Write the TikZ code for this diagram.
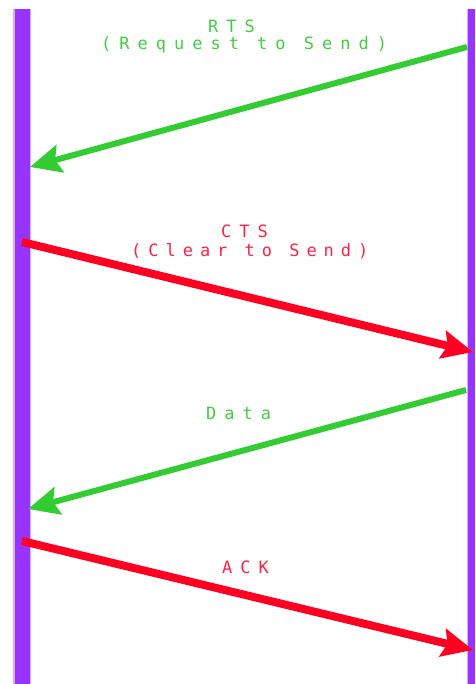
\documentclass[tikz,border=0pt]{standalone}
\usepackage{fontspec}
\usetikzlibrary{arrows.meta}
\newfontfamily\lblfont[LetterSpace=47]{DejaVu Sans Mono}
\newfontfamily\lblfontnarrow[LetterSpace=41]{DejaVu Sans Mono}
\definecolor{lifepurple}{HTML}{9933FF}
\definecolor{msggreen}{HTML}{33CC33}
\definecolor{txtgreen}{HTML}{44CC44}
\definecolor{msgred}{HTML}{FF0022}
\definecolor{txtred}{HTML}{FF2244}
\tikzset{
  greenmsg/.style={draw=msggreen, line width=6pt, -{Stealth[length=31pt,width=28pt,inset=5pt]}, color=msggreen},
  redmsg/.style={draw=msgred, line width=8pt, -{Stealth[length=31pt,width=28pt,inset=5pt]}, color=msgred},
  lbl/.style={anchor=base west, inner sep=0pt, font=\lblfont\fontsize{17}{17}\selectfont},
  lblnarrow/.style={anchor=base west, inner sep=0pt, font=\lblfontnarrow\fontsize{17}{17}\selectfont},
}
\begin{document}
\begin{tikzpicture}[x=1pt,y=-1pt]
\useasboundingbox (0,0) rectangle (475,684);
\fill[white] (0,0) rectangle (475,684);
% lifelines
\fill[lifepurple!40] (13,9) rectangle (31,684);
\fill[lifepurple] (14.5,9) rectangle (29.5,684);
\fill[lifepurple!40] (467,9) rectangle (475,684);
\fill[lifepurple] (468,9) rectangle (475,684);
% coordinates on lifelines
\coordinate (rtsS) at (467,47);
\coordinate (rtsE) at (30,167);
\coordinate (ctsS) at (22,242);
\coordinate (ctsE) at (473,352);
\coordinate (dataS) at (466,390);
\coordinate (dataE) at (28,509);
\coordinate (ackS) at (22,541);
\coordinate (ackE) at (473,650);
% messages
\draw[greenmsg] (rtsS) -- (rtsE);
\draw[redmsg] (ctsS) -- (ctsE);
\draw[greenmsg] (dataS) -- (dataE);
\draw[redmsg] (ackS) -- (ackE);
% labels
\node[lbl, text=txtgreen] (rts1) at (208,33) {RTS};
\node[lbl, text=txtgreen] (rts2) at (101,50) {(Request to Send)};
\node[lbl, text=txtred] (cts1) at (221,238) {CTS};
\node[lblnarrow, text=txtred] (cts2) at (131,256) {(Clear to Send)};
\node[lbl, text=txtgreen] (data) at (206,419) {Data};
\node[lbl, text=txtred] (ack) at (222,573) {ACK};
\end{tikzpicture}
\end{document}
